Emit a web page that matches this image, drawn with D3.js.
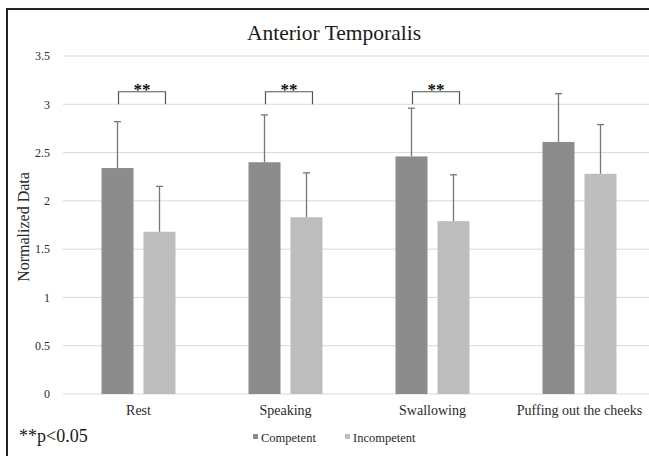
<!DOCTYPE html>
<html><head><meta charset="utf-8">
<script src="https://cdn.jsdelivr.net/npm/d3@7"></script>
<style>
html,body{margin:0;padding:0;background:#fff;}
svg text{font-family:"Liberation Serif","DejaVu Serif",serif !important;}
</style></head>
<body><svg id="chart" width="649" height="456"></svg>
<script>
const categories = ["Rest", "Speaking", "Swallowing", "Puffing out the cheeks"];
const seriesNames = ["Competent", "Incompetent"];
const competent = [2.34, 2.40, 2.46, 2.61];
const incompetent = [1.68, 1.83, 1.79, 2.28];
const competentErr = [0.48, 0.49, 0.50, 0.50];
const incompetentErr = [0.47, 0.46, 0.48, 0.51];
const significant = [true, true, true, false];
const yTicks = [0, 0.5, 1, 1.5, 2, 2.5, 3, 3.5];
const colors = ["#8c8c8c", "#bdbdbd"];

const svg = d3.select("#chart");
const W = 649, H = 456;
svg.append("rect").attr("width", W).attr("height", H).attr("fill", "#fff");

const plot = {left: 65, right: 653, top: 56, bottom: 394};
const y = d3.scaleLinear().domain([0, 3.5]).range([plot.bottom, plot.top]);
const x0 = d3.scaleBand().domain(categories).range([plot.left, plot.right]).padding(0);
const x1 = d3.scaleBand().domain(seriesNames).range([-37, 37]).paddingInner(0.238).paddingOuter(0);

// gridlines
svg.append("g").selectAll("line").data(yTicks).join("line")
  .attr("x1", plot.left - 2).attr("x2", plot.right)
  .attr("y1", d => y(d)).attr("y2", d => y(d))
  .attr("stroke", "#d9d9d9").attr("stroke-width", 1);

// y axis labels
const yAxis = d3.axisLeft(y).tickValues(yTicks).tickSize(0).tickPadding(0)
  .tickFormat(d => d3.format("")(d));
const ga = svg.append("g").attr("transform", `translate(${plot.left - 15},0)`).call(yAxis);
ga.select(".domain").remove();
ga.attr("font-family", null);
ga.selectAll("text").attr("font-size", 12).attr("fill", "#2a2a2a");

// data rows
const rows = categories.map((c, i) => ({
  cat: c,
  vals: [
    {s: seriesNames[0], v: competent[i], e: competentErr[i], k: 0},
    {s: seriesNames[1], v: incompetent[i], e: incompetentErr[i], k: 1}
  ],
  sig: significant[i]
}));

const groups = svg.append("g").selectAll("g").data(rows).join("g")
  .attr("transform", d => `translate(${x0(d.cat) + x0.bandwidth() / 2},0)`);

groups.selectAll("rect").data(d => d.vals).join("rect")
  .attr("x", d => x1(d.s)).attr("width", x1.bandwidth())
  .attr("y", d => y(d.v)).attr("height", d => y(0) - y(d.v))
  .attr("fill", d => colors[d.k]);

// error bars (upper only)
const eb = groups.selectAll("g.eb").data(d => d.vals).join("g").attr("class", "eb");
eb.append("line")
  .attr("x1", d => x1(d.s) + x1.bandwidth() / 2).attr("x2", d => x1(d.s) + x1.bandwidth() / 2)
  .attr("y1", d => y(d.v)).attr("y2", d => y(d.v + d.e))
  .attr("stroke", "#777").attr("stroke-width", 1.3);
eb.append("line")
  .attr("x1", d => x1(d.s) + x1.bandwidth() / 2 - 3.5).attr("x2", d => x1(d.s) + x1.bandwidth() / 2 + 3.5)
  .attr("y1", d => y(d.v + d.e)).attr("y2", d => y(d.v + d.e))
  .attr("stroke", "#777").attr("stroke-width", 1.3);

// significance brackets
const sigG = groups.filter(d => d.sig).append("g");
const bx1 = x1(seriesNames[0]) + x1.bandwidth() / 2 + 1;
const bx2 = x1(seriesNames[1]) + x1.bandwidth() / 2 + 6;
sigG.append("path")
  .attr("d", `M${bx1},${y(3.0)} V${y(3.13)} H${bx2} V${y(3.0)}`)
  .attr("fill", "none").attr("stroke", "#555").attr("stroke-width", 1.2);
sigG.append("text")
  .attr("x", (bx1 + bx2) / 2).attr("y", y(3.13) + 3)
  .attr("text-anchor", "middle").attr("font-size", 17).attr("font-weight", "bold")
  .attr("fill", "#111").text("**");

// category labels
svg.append("g").selectAll("text").data(categories).join("text")
  .attr("x", d => x0(d) + x0.bandwidth() / 2).attr("y", 415)
  .attr("text-anchor", "middle").attr("font-size", 14).attr("fill", "#2a2a2a")
  .text(d => d);

// title
svg.append("text").attr("x", 334).attr("y", 40).attr("text-anchor", "middle")
  .attr("font-size", 21.5).attr("fill", "#1a1a1a").text("Anterior Temporalis");

// y axis title
svg.append("text").attr("transform", `translate(29,227) rotate(-90)`)
  .attr("text-anchor", "middle").attr("font-size", 16).attr("fill", "#2a2a2a")
  .text("Normalized Data");

// legend
const leg = svg.append("g").attr("transform", "translate(253,438)");
const legItems = [{n: seriesNames[0], x: 0}, {n: seriesNames[1], x: 92}];
legItems.forEach((it, i) => {
  leg.append("rect").attr("x", it.x).attr("y", -4).attr("width", 5).attr("height", 5).attr("fill", colors[i]);
  leg.append("text").attr("x", it.x + 8).attr("y", 4).attr("font-size", 12.5).attr("fill", "#2a2a2a").text(it.n);
});

// p-value note
svg.append("text").attr("x", 19).attr("y", 442).attr("font-size", 18).attr("fill", "#1a1a1a").text("**p<0.05");

// frame
svg.append("line").attr("x1", 7).attr("x2", W).attr("y1", 9).attr("y2", 9).attr("stroke", "#222").attr("stroke-width", 2);
svg.append("line").attr("x1", 7).attr("x2", 7).attr("y1", 8).attr("y2", H).attr("stroke", "#222").attr("stroke-width", 2);
</script></body></html>
